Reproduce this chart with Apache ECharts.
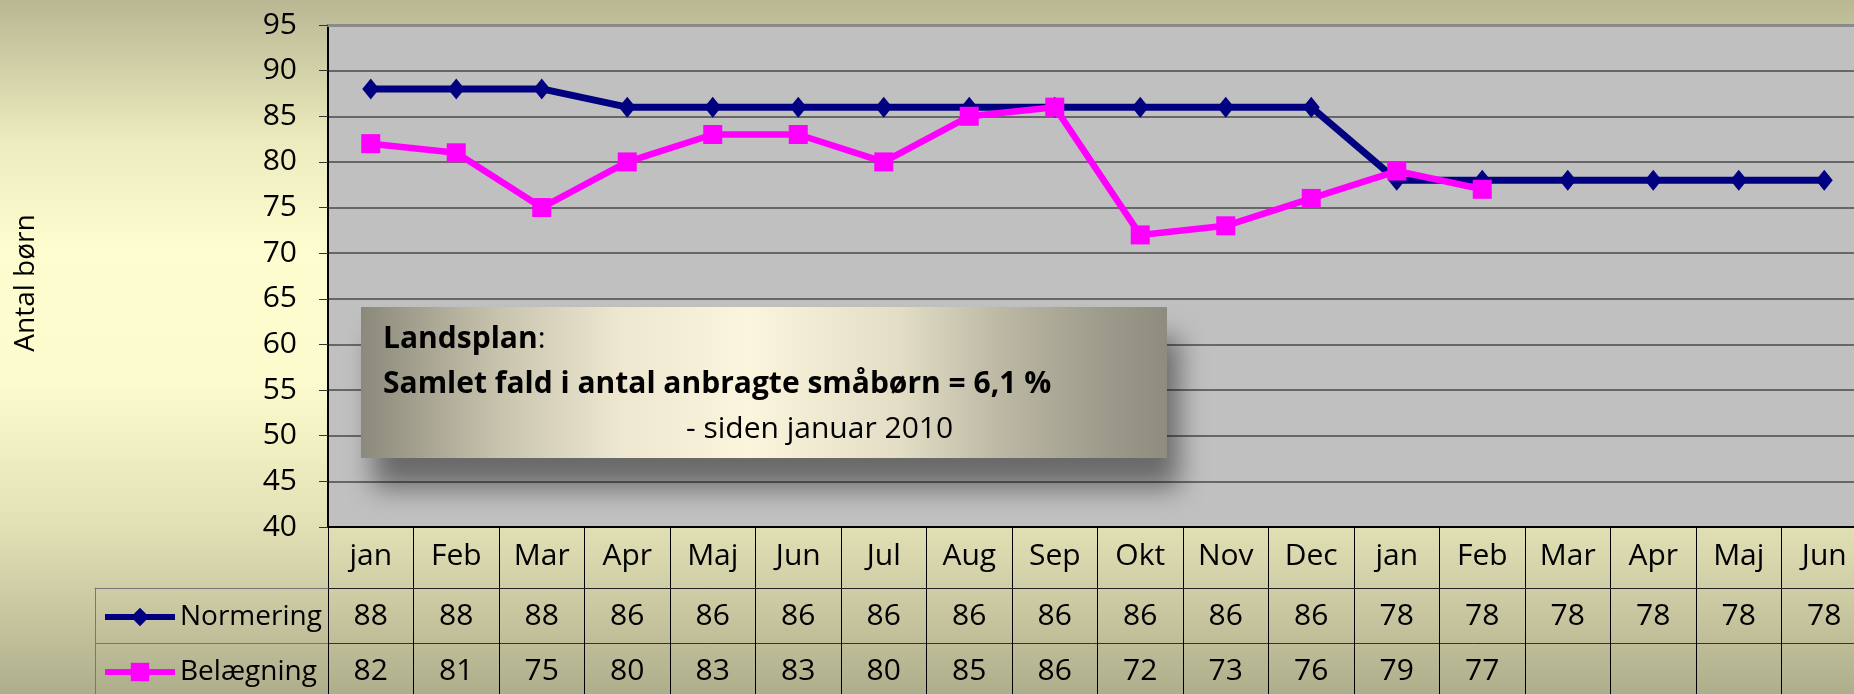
<!DOCTYPE html>
<html><head><meta charset="utf-8">
<script src="https://cdn.jsdelivr.net/npm/echarts@6/dist/echarts.min.js"></script>
<style>html,body{margin:0;padding:0;overflow:hidden;background:#fff}#c{width:1854px;height:694px}</style>
</head><body><div id="c"></div>
<script>
const months = ['jan','Feb','Mar','Apr','Maj','Jun','Jul','Aug','Sep','Okt','Nov','Dec','jan','Feb','Mar','Apr','Maj','Jun'];
const normering = [88,88,88,86,86,86,86,86,86,86,86,86,78,78,78,78,78,78];
const belaegning = [82,81,75,80,83,83,80,85,86,72,73,76,79,77,null,null,null,null];
const seriesNames = ['Normering','Belægning'];
const axisTitle = 'Antal børn';
const yMin = 40, yMax = 95, yStep = 5;
const noteLines = ['Landsplan', 'Samlet fald i antal anbragte småbørn = 6,1 %', '- siden januar 2010'];

const FONT = "'Open Sans', sans-serif";
const tableCells = [];
normering.forEach((v,i)=>{ if(v!=null) tableCells.push([i,0,v]); });
belaegning.forEach((v,i)=>{ if(v!=null) tableCells.push([i,1,v]); });

const legendBase = {orient:'vertical', left:97, itemWidth:70, itemHeight:23, itemGap:10,
  lineStyle:{width:6}, textStyle:{fontSize:28, color:'#000', fontFamily:FONT}};

const chart = echarts.init(document.getElementById('c'));
const option = {
  animation:false,
  backgroundColor:{type:'linear',x:0,y:0,x2:0,y2:1,colorStops:[
    {offset:0,color:'#b8b793'},{offset:0.2,color:'#ebebbd'},{offset:0.36,color:'#fdfdd0'},
    {offset:0.55,color:'#fbfbcd'},{offset:0.75,color:'#e3e2b6'},{offset:1,color:'#afae8c'}]},
  textStyle:{fontFamily:FONT},
  grid:[
    {left:328, top:25, width:1539, height:502, show:true, backgroundColor:'#c0c0c0', borderWidth:0, outerBoundsMode:'none', containLabel:false},
    {left:328, top:588, width:1539, height:110, outerBoundsMode:'none', containLabel:false},
    {left:95, top:588, width:233, height:110, outerBoundsMode:'none', containLabel:false}
  ],
  xAxis:[
    {gridIndex:0, type:'category', data:months, boundaryGap:true,
     axisLine:{onZero:false, lineStyle:{color:'#000', width:2}},
     axisTick:{show:true, length:61, interval:0, lineStyle:{color:'#000', width:1}},
     axisLabel:{interval:0, margin:14, fontSize:30, color:'#000', fontFamily:FONT},
     splitLine:{show:false}},
    {gridIndex:0, type:'category', data:months, position:'top',
     axisLine:{show:true, onZero:false, lineStyle:{color:'#8a8a8a', width:3}},
     axisTick:{show:false}, axisLabel:{show:false}, splitLine:{show:false}},
    {gridIndex:1, type:'category', data:months, position:'top',
     axisLine:{show:true, onZero:false, lineStyle:{color:'#222', width:1}},
     axisTick:{show:false}, axisLabel:{show:false},
     splitLine:{show:true, interval:0, lineStyle:{color:'#000', width:1}}},
    {gridIndex:2, type:'value', min:0, max:1, position:'top',
     axisLine:{show:true, onZero:false, lineStyle:{color:'#777', width:1}},
     axisTick:{show:false}, axisLabel:{show:false}, splitLine:{show:false}}
  ],
  yAxis:[
    {gridIndex:0, type:'value', min:yMin, max:yMax, interval:yStep,
     name:axisTitle, nameLocation:'middle', nameRotate:90, nameGap:288,
     nameTextStyle:{fontSize:28, color:'#000', fontFamily:FONT, padding:[0,14,0,0]},
     axisLine:{show:true, onZero:false, lineStyle:{color:'#000', width:2}},
     axisTick:{show:true, length:9, lineStyle:{color:'#333'}},
     axisLabel:{fontSize:30, color:'#000', margin:31, fontFamily:FONT},
     splitLine:{show:true, lineStyle:{color:'#4a4a4a', width:1.5}}},
    {gridIndex:1, type:'category', data:seriesNames, inverse:true,
     axisLine:{show:true, onZero:false, lineStyle:{color:'#000', width:1}},
     axisTick:{show:false}, axisLabel:{show:false},
     splitLine:{show:true, interval:0, lineStyle:{color:'#333', width:1}}},
    {gridIndex:2, type:'category', data:seriesNames, inverse:true,
     axisLine:{show:true, onZero:false, lineStyle:{color:'#777', width:1}},
     axisTick:{show:false}, axisLabel:{show:false},
     splitLine:{show:true, interval:0, lineStyle:{color:'#777', width:1}}}
  ],
  legend:[
    Object.assign({}, legendBase, {data:[seriesNames[0]], top:598}),
    Object.assign({}, legendBase, {data:[seriesNames[1]], top:653})
  ],
  series:[
    {name:seriesNames[0], type:'line', xAxisIndex:0, yAxisIndex:0, data:normering,
     symbol:'diamond', symbolSize:[17,21], showAllSymbol:true,
     lineStyle:{color:'#000080', width:7}, itemStyle:{color:'#000080'}, z:3},
    {name:seriesNames[1], type:'line', xAxisIndex:0, yAxisIndex:0, data:belaegning,
     symbol:'rect', symbolSize:19, showAllSymbol:true,
     lineStyle:{color:'#ff00ff', width:6.5}, itemStyle:{color:'#ff00ff'}, z:4},
    {type:'custom', xAxisIndex:2, yAxisIndex:1, data:tableCells, silent:true,
     dimensions:['x','y','v'], encode:{x:0, y:1},
     renderItem:function(params, api){
       const p = api.coord([api.value(0), api.value(1)]);
       return {type:'text', x:p[0], y:p[1]+1, style:{text:String(api.value(2)), fill:'#000',
         fontSize:30, fontFamily:FONT, align:'center', verticalAlign:'middle'}};
     }}
  ],
  graphic:[
    {type:'rect', z:100, shape:{x:361, y:307, width:806, height:151},
     style:{fill:{type:'linear',x:0,y:0,x2:1,y2:0,colorStops:[
       {offset:0,color:'#8b897b'},{offset:0.17,color:'#c8c3ad'},{offset:0.32,color:'#ede7d0'},
       {offset:0.48,color:'#fbf5dd'},{offset:0.67,color:'#e2ddc4'},{offset:0.79,color:'#bdb9a5'},
       {offset:0.92,color:'#9d9b8b'},{offset:1,color:'#8e8c7e'}]},
       shadowBlur:26, shadowOffsetX:12, shadowOffsetY:30, shadowColor:'rgba(0,0,0,0.45)'}},
    {type:'text', z:101, x:383, y:339,
     style:{text:'{b|'+noteLines[0]+'}{r|:}', verticalAlign:'middle', fill:'#000',
       rich:{b:{fontWeight:'bold', fontSize:30, fontFamily:FONT, fill:'#000'},
             r:{fontSize:30, fontFamily:FONT, fill:'#000'}}}},
    {type:'text', z:101, x:383, y:384,
     style:{text:noteLines[1], fontWeight:'bold', fontSize:30, fontFamily:FONT, fill:'#000', verticalAlign:'middle'}},
    {type:'text', z:101, x:686, y:429,
     style:{text:noteLines[2], fontSize:30, fontFamily:FONT, fill:'#000', verticalAlign:'middle'}}
  ]
};
chart.setOption(option);
</script>
</body></html>
